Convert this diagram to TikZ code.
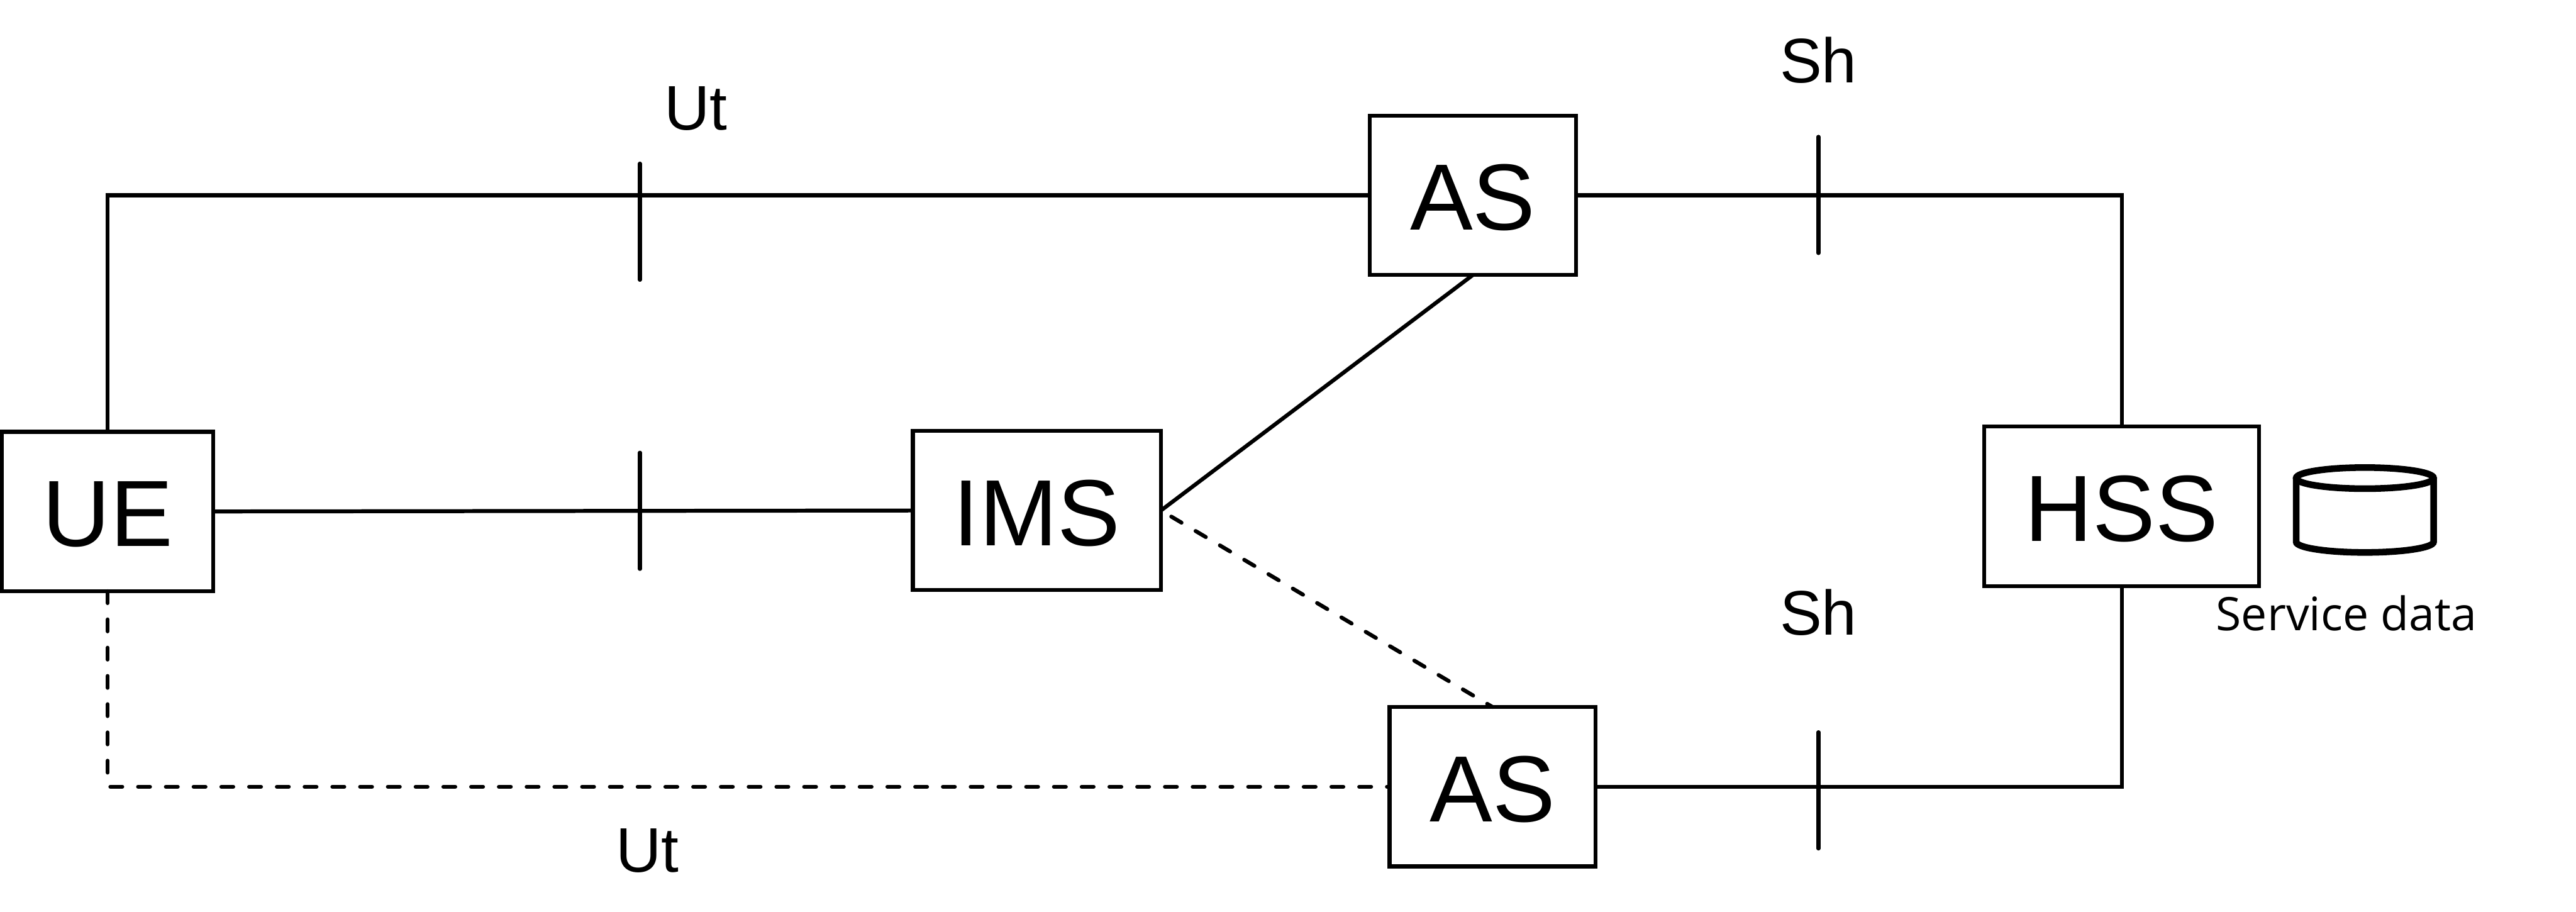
\documentclass[tikz,border=0pt]{standalone}
\usepackage{fontspec}
\setmainfont{Liberation Sans}
\newfontfamily\datafont{Open Sans}
\usepackage{xcolor}
\definecolor{ink}{HTML}{000000}
\tikzset{
  font=\rmfamily,
  %
  box/.style={
    draw=ink, line width=1.35pt, fill=white, inner sep=0pt, outer sep=0pt,
    align=center, text=ink, minimum height=1.93cm,
    text height=24pt, text depth=0pt,
    font=\fontsize{32.4}{36}\selectfont,
  },
  %
  conn/.style={draw=ink, line width=1.35pt},
  connback/.style={conn, line cap=round, dash pattern=on 4.1pt off 5.63pt},
  tickmark/.style={draw=ink, line width=1.35pt, line cap=round},
  store/.style={draw=ink, line width=2.28pt, fill=white},
  %
  lbl/.style={font=\fontsize{21.7}{24}\selectfont, text=ink, anchor=base, inner sep=0pt},
  note/.style={font=\datafont\fontsize{15.9}{18}\selectfont, text=ink, anchor=base, inner sep=0pt},
}
\begin{document}
\begin{tikzpicture}[x=0.4cm, y=0.4cm]
  \useasboundingbox (0,0) rectangle (77.97,27.60);

  \node[box, minimum width=2.56cm]  (ue)    at (3.26,12.12) {UE};
  \node[box, minimum width=3.004cm] (ims)   at (31.385,12.15) {IMS};
  \node[box, minimum width=2.496cm] (asup)  at (44.58,21.69) {AS};
  \node[box, minimum width=2.492cm] (aslow) at (45.175,3.79) {AS};
  \node[box, minimum width=3.328cm] (hss)   at (64.22,12.275) {HSS};

  \draw[conn] (ue.north) |- (asup.west);
  \draw[conn] (ue.east) -- (ims.west);
  \draw[conn] (asup.east) -| (hss.north);
  \draw[conn] (aslow.east) -| (hss.south);
  \draw[conn] (ims.east) -- (asup.south);

  % dashed branch, the bend restarts the dashes
  \coordinate (bend) at (ue.south |- aslow.west);
  \draw[connback] (ue.south) -- (bend);
  \draw[connback, dash pattern=on 4.1pt off 5.46pt, dash phase=8.65pt] (bend) -- (aslow.west);
  \draw[connback, dash phase=5.6pt] (ims.east) -- (aslow.north);

  % reference points
  \foreach \tx/\ty in {19.37/20.89, 55.04/21.70, 19.37/12.14, 55.04/3.68}
    \draw[tickmark] (\tx,\ty-1.76) -- (\tx,\ty+1.76);

  \node[lbl] (utup)  at (21.06,23.67) {Ut};
  \node[lbl] (utlow) at (19.60,1.20)  {Ut};
  \node[lbl] (shup)  at (55.04,25.10) {Sh};
  \node[lbl] (shlow) at (55.04,8.39)  {Sh};

  % data store next to the HSS
  \draw[store] (69.50,13.13) -- (69.50,11.20)
    arc[start angle=180, end angle=360, x radius=2.08, y radius=0.32] -- (73.66,13.13);
  \draw[store] (71.58,13.13) ellipse [x radius=2.08, y radius=0.32];
  \node[note] (data) at (71.02,8.51) {Service data};
\end{tikzpicture}
\end{document}
